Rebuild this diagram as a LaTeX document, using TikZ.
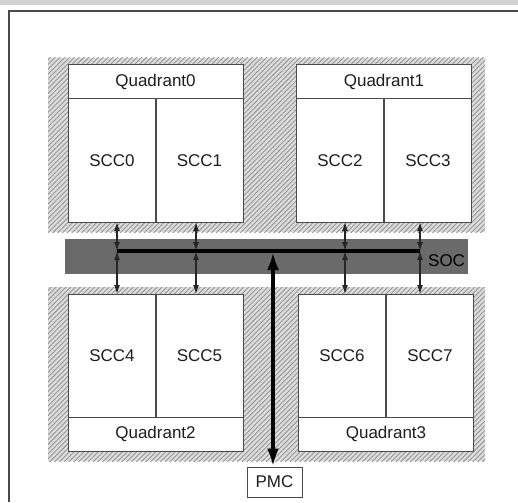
\documentclass[tikz,border=0pt]{standalone}
\usepackage{fontspec}
\setmainfont{Liberation Sans}
\usetikzlibrary{patterns.meta,arrows.meta}
\definecolor{hatchbg}{HTML}{DDDDDD}
\definecolor{hatchln}{HTML}{949494}
\definecolor{socfill}{HTML}{6A6A6A}
\definecolor{boxline}{HTML}{4A4A4A}
\definecolor{txt}{HTML}{1E1E1E}
\tikzset{
  hatch/.style={fill=hatchbg, postaction={pattern={Lines[angle=45,distance=1.7pt,line width=0.45pt]}, pattern color=hatchln}},
  sccbox/.style={draw=boxline, line width=0.5pt, fill=white, inner sep=0pt, minimum width=43.5pt, minimum height=61.5pt, text=txt, font=\fontsize{8.5}{10}\selectfont},
  titlebox/.style={draw=boxline, line width=0.5pt, fill=white, inner sep=0pt, minimum width=87.5pt, minimum height=17pt, text=txt, font=\fontsize{8.5}{10}\selectfont},
  socbar/.style={fill=socfill, draw=none, inner sep=0pt, minimum width=201.5pt, minimum height=17.5pt},
  pmcbox/.style={draw=boxline, line width=0.5pt, fill=white, inner sep=0pt, minimum width=27.5pt, minimum height=15pt, text=txt, font=\fontsize{8.5}{10}\selectfont},
  link/.style={draw=black!85, line width=0.6pt, {Latex[length=4.5pt,width=3pt]}-{Latex[length=4.5pt,width=3pt]}},
  bus/.style={draw=black, line width=2pt},
  pmclink/.style={draw=black, line width=2pt, {Latex[length=9pt,width=6pt]}-{Latex[length=9pt,width=6pt]}}
}
\begin{document}
\begin{tikzpicture}[x=0.5pt,y=-0.5pt]
\useasboundingbox (0,0) rectangle (518,502);
% page frame
\fill[gray!35] (0,0) rectangle (518,5);
\draw[boxline, line width=0.8pt] (9,502) -- (9,11) -- (518,11);
% hatched regions
\path[hatch] (48,58) rectangle (485,232);
\path[hatch] (48,287) rectangle (485,461);
% upper quadrants
\node[titlebox] (q0) at (155.5,82) {Quadrant0};
\node[sccbox] (scc0) at (112,160.5) {SCC0};
\node[sccbox] (scc1) at (199.5,160.5) {SCC1};
\node[titlebox] (q1) at (384,82) {Quadrant1};
\node[sccbox] (scc2) at (340,160.5) {SCC2};
\node[sccbox] (scc3) at (428,160.5) {SCC3};
% lower quadrants
\node[sccbox] (scc4) at (112,355.5) {SCC4};
\node[sccbox] (scc5) at (199.5,355.5) {SCC5};
\node[titlebox] (q2) at (155.5,434) {Quadrant2};
\node[sccbox] (scc6) at (342,355.5) {SCC6};
\node[sccbox] (scc7) at (430,355.5) {SCC7};
\node[titlebox] (q3) at (386,434) {Quadrant3};
% SOC
\node[socbar] (soc) at (266.5,256.5) {};
\node[anchor=east, inner sep=1pt, text=black, font=\fontsize{8.5}{10}\selectfont] (soclabel) at ([xshift=-0.5pt,yshift=-2pt]soc.east) {SOC};
% PMC
\node[pmcbox] (pmc) at (274.5,482) {PMC};
% connection points
\coordinate (u0) at (117,222); \coordinate (u1) at (196,222);
\coordinate (u2) at (345,222); \coordinate (u3) at (420,222);
\coordinate (b0) at (117,251); \coordinate (b1) at (196,251);
\coordinate (b2) at (345,251); \coordinate (b3) at (420,251);
\coordinate (d0) at (117,294); \coordinate (d1) at (196,294);
\coordinate (d2) at (345,294); \coordinate (d3) at (420,294);
\coordinate (bp) at (273,252);
% bus
\draw[bus] (b0) -- (b3);
% links
\foreach \i in {0,1,2,3}{
  \draw[link] (u\i) -- (b\i);
  \draw[link] (b\i) -- (d\i);
}
\draw[pmclink] (bp) -- (pmc.north -| bp);
\end{tikzpicture}
\end{document}
